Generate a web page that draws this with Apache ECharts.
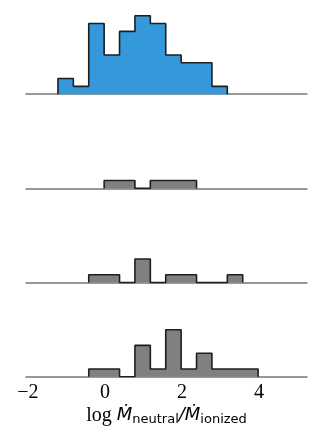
<!DOCTYPE html>
<html><head><meta charset="utf-8">
<script src="https://cdn.jsdelivr.net/npm/echarts@6/dist/echarts.min.js"></script>
<style>html,body{margin:0;padding:0;background:#fff}#c{width:332px;height:443px}</style>
</head><body><div id="c"></div>
<script>
// Histogram bins (width 0.4 in log Mdot ratio)
const binWidth = 0.4;
const startA = -1.22;  // top panel (blue)
const countsA = [2, 1, 9, 5, 8, 10, 9, 5, 4, 4, 1];
const startB = -0.02;
const countsB = [1, 1, 0, 1, 1, 1];
const startC = -0.42;
const countsC = [1, 1, 0, 3, 0, 1, 1, 0, 0, 1];
const startD = -0.42;
const countsD = [1, 1, 0, 4, 1, 6, 1, 3, 1, 1, 1];
const tickValues = [-2, 0, 2, 4];
const fills = ['#3498db', '#808080', '#808080', '#808080'];

function stepData(start, counts) {
  const d = [[start, 0]];
  counts.forEach((c, i) => d.push([+(start + i * binWidth).toFixed(3), c]));
  d.push([+(start + counts.length * binWidth).toFixed(3), 0]);
  return d;
}
const panels = [[startA, countsA], [startB, countsB], [startC, countsC], [startD, countsD]];

const H = 94.2;
const grids = [], xAxes = [], yAxes = [], series = [];
panels.forEach((p, i) => {
  grids.push({left: 26, right: 25, top: i * H, height: H});
  const last = i === panels.length - 1;
  xAxes.push({
    type: 'value', gridIndex: i, min: -2.05, max: 5.25,
    axisLine: {show: true, lineStyle: {color: '#777', width: 1.5}},
    axisTick: {show: false},
    splitLine: {show: false},
    axisLabel: last ? {
      show: true, customValues: tickValues, margin: 6,
      fontFamily: 'Liberation Serif', fontSize: 20, color: '#000',
      formatter: v => (v < 0 ? '\u2212' + Math.abs(v) : '' + v)
    } : {show: false},
    name: last ? '{l|log }{m|\u1E40}{s|neutral}{m|/\u1E40}{s|ionized}' : '',
    nameLocation: 'middle', nameGap: 28,
    nameTextStyle: {
      rich: {
        l: {fontFamily: 'Liberation Serif', fontSize: 20, lineHeight: 22, color: '#000', verticalAlign: 'middle'},
        m: {fontFamily: 'DejaVu Sans', fontStyle: 'italic', fontSize: 18, lineHeight: 22, color: '#000', verticalAlign: 'middle'},
        s: {fontFamily: 'DejaVu Sans', fontSize: 13, lineHeight: 13, padding: [8, 0, 0, 0], color: '#000', verticalAlign: 'middle'}
      }
    }
  });
  yAxes.push({type: 'value', gridIndex: i, min: 0, max: 12, show: false});
  series.push({
    type: 'line', xAxisIndex: i, yAxisIndex: i, step: 'end', symbol: 'none',
    data: stepData(p[0], p[1]),
    lineStyle: {color: '#1e1e1e', width: 1.6},
    areaStyle: {color: fills[i], opacity: 1},
    silent: true, animation: false, z: 3
  });
});

const chart = echarts.init(document.getElementById('c'));
chart.setOption({animation: false, grid: grids, xAxis: xAxes, yAxis: yAxes, series: series});
</script></body></html>
